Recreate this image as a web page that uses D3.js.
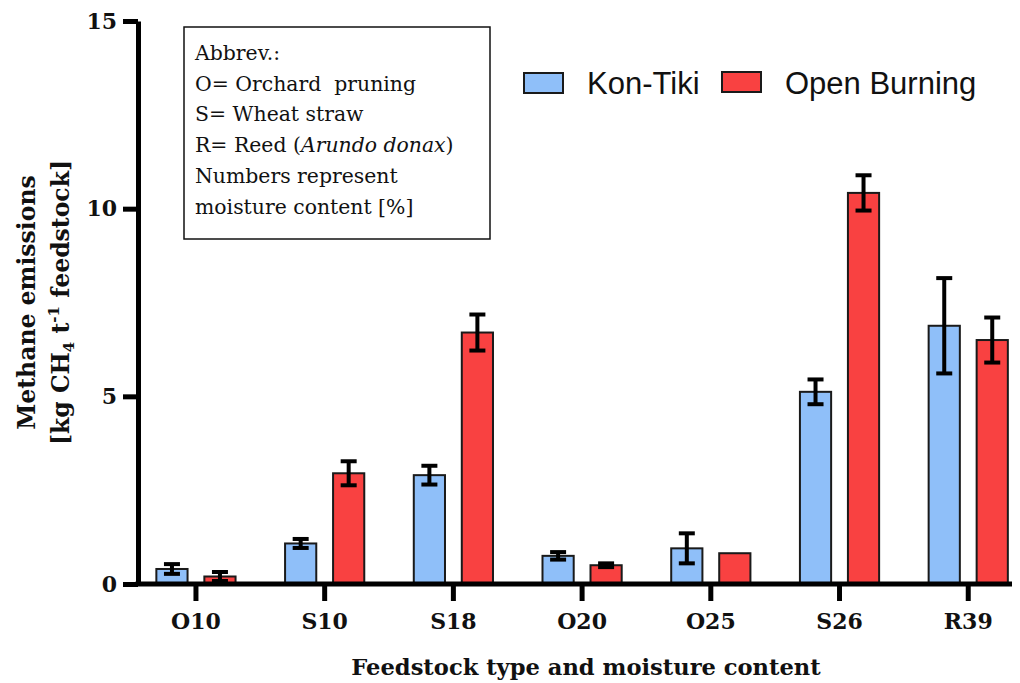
<!DOCTYPE html>
<html>
<head>
<meta charset="utf-8">
<script src="https://cdn.jsdelivr.net/npm/d3@7"></script>
<style>
  html, body { margin: 0; padding: 0; background: #fff; }
  svg { display: block; }
</style>
</head>
<body>
<svg id="chart" width="1020" height="683"></svg>
<script>
// Methane emissions per tonne of feedstock, Kon-Tiki kiln vs open burning
const categories = ["O10", "S10", "S18", "O20", "O25", "S26", "R39"];
const seriesNames = ["Kon-Tiki", "Open Burning"];
const konTiki = [0.40, 1.08, 2.90, 0.75, 0.95, 5.12, 6.88];
const konTikiErr = [0.13, 0.12, 0.25, 0.10, 0.40, 0.33, 1.27];
const openBurning = [0.20, 2.95, 6.70, 0.50, 0.82, 10.42, 6.50];
const openBurningErr = [0.12, 0.32, 0.48, 0.05, 0.00, 0.47, 0.60];
const yTicks = [0, 5, 10, 15];
const abbrevLines = [
  [{ t: "Abbrev.:" }],
  [{ t: "O= Orchard  pruning" }],
  [{ t: "S= Wheat straw" }],
  [{ t: "R= Reed (" }, { t: "Arundo donax", italic: true }, { t: ")" }],
  [{ t: "Numbers represent" }],
  [{ t: "moisture content [%]" }]
];

const colors = { "Kon-Tiki": "#8fbff9", "Open Burning": "#f94141" };
const serifBold = "'DejaVu Serif', serif";

const svg = d3.select("#chart");

const y = d3.scaleLinear().domain([0, 15]).range([584, 21]);
const x = d3.scaleBand().domain(categories).range([131.6, 1032.6]);
const xs = d3.scaleBand().domain(seriesNames).range([-48, 48])
  .paddingInner(0.35).paddingOuter(0.175);

const axisX = 138;     // position of the vertical axis
const axisEnd = 1012;  // right end of the horizontal axis

const rows = categories.map((c, i) => ({
  cat: c,
  values: [
    { s: "Kon-Tiki", v: konTiki[i], e: konTikiErr[i] },
    { s: "Open Burning", v: openBurning[i], e: openBurningErr[i] }
  ]
}));

// bars
const groups = svg.append("g").selectAll("g").data(rows).join("g")
  .attr("transform", d => `translate(${x(d.cat) + x.bandwidth() / 2},0)`);

groups.selectAll("rect").data(d => d.values).join("rect")
  .attr("x", d => xs(d.s))
  .attr("width", xs.bandwidth())
  .attr("y", d => y(d.v))
  .attr("height", d => y(0) - y(d.v))
  .attr("fill", d => colors[d.s])
  .attr("stroke", "#1a1a1a")
  .attr("stroke-width", 2);

// error bars
const eb = groups.selectAll("g.err").data(d => d.values.filter(v => v.e > 0)).join("g")
  .attr("class", "err")
  .attr("transform", d => `translate(${xs(d.s) + xs.bandwidth() / 2},0)`)
  .attr("stroke", "#000").attr("stroke-width", 4);
eb.append("line").attr("x1", 0).attr("x2", 0)
  .attr("y1", d => y(d.v + d.e)).attr("y2", d => y(d.v - d.e));
eb.append("line").attr("x1", -8).attr("x2", 8)
  .attr("y1", d => y(d.v + d.e)).attr("y2", d => y(d.v + d.e));
eb.append("line").attr("x1", -8).attr("x2", 8)
  .attr("y1", d => y(d.v - d.e)).attr("y2", d => y(d.v - d.e));

// y axis
const yAxis = svg.append("g").attr("transform", `translate(${axisX},0)`)
  .call(d3.axisLeft(y).tickValues(yTicks).tickSize(15).tickSizeOuter(0).tickPadding(6));
yAxis.select(".domain").attr("stroke", "#000").attr("stroke-width", 5);
yAxis.selectAll(".tick line").attr("stroke", "#000").attr("stroke-width", 5);
yAxis.selectAll(".tick text")
  .attr("fill", "#111")
  .attr("font-family", serifBold).attr("font-weight", "bold").attr("font-size", 22);

// x axis
const xAxis = svg.append("g").attr("transform", `translate(0,${y(0)})`)
  .call(d3.axisBottom(x).tickSize(17).tickSizeOuter(0).tickPadding(12));
xAxis.select(".domain").remove();
xAxis.selectAll(".tick line").attr("stroke", "#000").attr("stroke-width", 5);
xAxis.selectAll(".tick text")
  .attr("fill", "#111")
  .attr("font-family", serifBold).attr("font-weight", "bold").attr("font-size", 22);
xAxis.append("line")
  .attr("x1", axisX - 2.5).attr("x2", axisEnd)
  .attr("y1", 0).attr("y2", 0)
  .attr("stroke", "#000").attr("stroke-width", 5);

// axis titles
svg.append("text")
  .attr("x", 586).attr("y", 675)
  .attr("text-anchor", "middle")
  .attr("font-family", serifBold).attr("font-weight", "bold").attr("font-size", 22.6)
  .attr("fill", "#111")
  .text("Feedstock type and moisture content");

const yMid = (y(0) + y(15)) / 2;
const yTitle = svg.append("g")
  .attr("transform", `translate(0,${yMid}) rotate(-90)`)
  .attr("font-family", serifBold).attr("font-weight", "bold").attr("font-size", 23.5)
  .attr("fill", "#111").attr("text-anchor", "middle");
yTitle.append("text").attr("x", 0).attr("y", 35).text("Methane emissions");
const t2 = yTitle.append("text").attr("x", 0).attr("y", 69);
t2.append("tspan").text("[kg CH");
t2.append("tspan").attr("font-size", 15).attr("dy", 5).text("4");
t2.append("tspan").attr("dy", -5).text(" t");
t2.append("tspan").attr("font-size", 15).attr("dy", -10).text("-1");
t2.append("tspan").attr("dy", 10).text(" feedstock]");

// abbreviation box
svg.append("rect")
  .attr("x", 184).attr("y", 27).attr("width", 306).attr("height", 212)
  .attr("fill", "#fff").attr("stroke", "#111").attr("stroke-width", 1.5);
const box = svg.append("g")
  .attr("font-family", "'DejaVu Serif', serif").attr("font-size", 20.4).attr("fill", "#111");
abbrevLines.forEach((parts, i) => {
  const t = box.append("text").attr("x", 195).attr("y", 60 + i * 30.7).attr("xml:space", "preserve");
  parts.forEach(p => t.append("tspan").attr("font-style", p.italic ? "italic" : null).text(p.t));
});

// legend
const legendPos = [
  { s: "Kon-Tiki", rx: 524, ry: 73, tx: 587 },
  { s: "Open Burning", rx: 722, ry: 72, tx: 785 }
];
const lg = svg.append("g");
lg.selectAll("rect").data(legendPos).join("rect")
  .attr("x", d => d.rx).attr("y", d => d.ry).attr("width", 39).attr("height", 20)
  .attr("fill", d => colors[d.s]).attr("stroke", "#1a1a1a").attr("stroke-width", 2);
lg.selectAll("text").data(legendPos).join("text")
  .attr("x", d => d.tx).attr("y", 94)
  .attr("font-family", "'Liberation Sans', Arial, sans-serif").attr("font-size", 31)
  .attr("fill", "#111")
  .text(d => d.s);
</script>
</body>
</html>
